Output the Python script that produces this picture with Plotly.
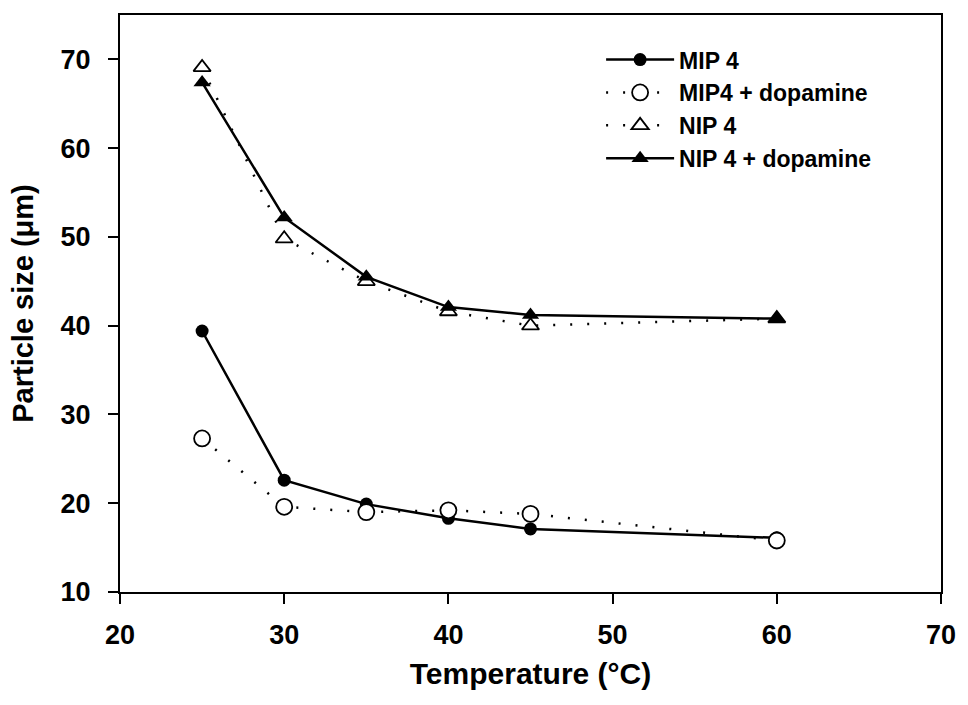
import plotly.graph_objects as go

temperature = [25, 30, 35, 40, 45, 60]
mip4 = [39.4, 22.6, 19.9, 18.3, 17.1, 16.1]
mip4_dopamine = [27.3, 19.6, 19.0, 19.2, 18.8, 15.8]
nip4 = [69.1, 49.8, 45.0, 41.6, 40.0, 40.8]
nip4_dopamine = [67.4, 52.2, 45.5, 42.1, 41.2, 40.8]

x_ticks = [20, 30, 40, 50, 60, 70]
y_ticks = [10, 20, 30, 40, 50, 60, 70]

FONT = "Liberation Sans, Arial, sans-serif"
DOT = "2px,15px"

fig = go.Figure()
fig.add_trace(go.Scatter(
    x=temperature, y=mip4, name="MIP 4", mode="lines+markers",
    line=dict(color="black", width=2.5),
    marker=dict(symbol="circle", size=13, color="black"),
))
fig.add_trace(go.Scatter(
    x=temperature, y=mip4_dopamine, name="MIP4 + dopamine", mode="lines+markers",
    line=dict(color="black", width=2.5, dash=DOT),
    marker=dict(symbol="circle", size=16, color="white", line=dict(width=1.8, color="black")),
))
fig.add_trace(go.Scatter(
    x=temperature, y=nip4, name="NIP 4", mode="lines+markers",
    line=dict(color="black", width=2.5, dash=DOT),
    marker=dict(symbol="triangle-up", size=15, color="white", line=dict(width=1.8, color="black")),
))
fig.add_trace(go.Scatter(
    x=temperature, y=nip4_dopamine, name="NIP 4 + dopamine", mode="lines+markers",
    line=dict(color="black", width=2.5),
    marker=dict(symbol="triangle-up", size=15, color="black"),
))

fig.update_layout(
    width=968, height=705,
    margin=dict(l=120, r=19, t=15, b=113),
    paper_bgcolor="white", plot_bgcolor="white",
    font=dict(family=FONT, color="black"),
    showlegend=True,
    legend=dict(
        x=0.586, y=0.96, xanchor="left", yanchor="top",
        bgcolor="rgba(0,0,0,0)", borderwidth=0,
        font=dict(family=FONT, size=23, color="black", weight="bold"),
        itemwidth=68, tracegroupgap=0,
    ),
    xaxis=dict(
        range=[20, 70], tickvals=x_ticks, ticktext=[str(v) for v in x_ticks],
        showline=True, linecolor="black", linewidth=2, mirror=True,
        ticks="outside", ticklen=10, tickwidth=2, tickcolor="black",
        showgrid=False, zeroline=False,
        tickfont=dict(family=FONT, size=27, color="black", weight="bold"),
        ticklabelstandoff=8,
        title=dict(text="Temperature (°C)", standoff=14,
                   font=dict(family=FONT, size=30, color="black", weight="bold")),
    ),
    yaxis=dict(
        range=[10, 75], tickvals=y_ticks, ticktext=[str(v) for v in y_ticks],
        showline=True, linecolor="black", linewidth=2, mirror=True,
        ticks="outside", ticklen=10, tickwidth=2, tickcolor="black",
        showgrid=False, zeroline=False,
        tickfont=dict(family=FONT, size=27, color="black", weight="bold"),
        ticklabelstandoff=12,
        title=dict(text="Particle size (μm)", standoff=18,
                   font=dict(family=FONT, size=29, color="black", weight="bold")),
    ),
)

fig.write_html("out.html")
